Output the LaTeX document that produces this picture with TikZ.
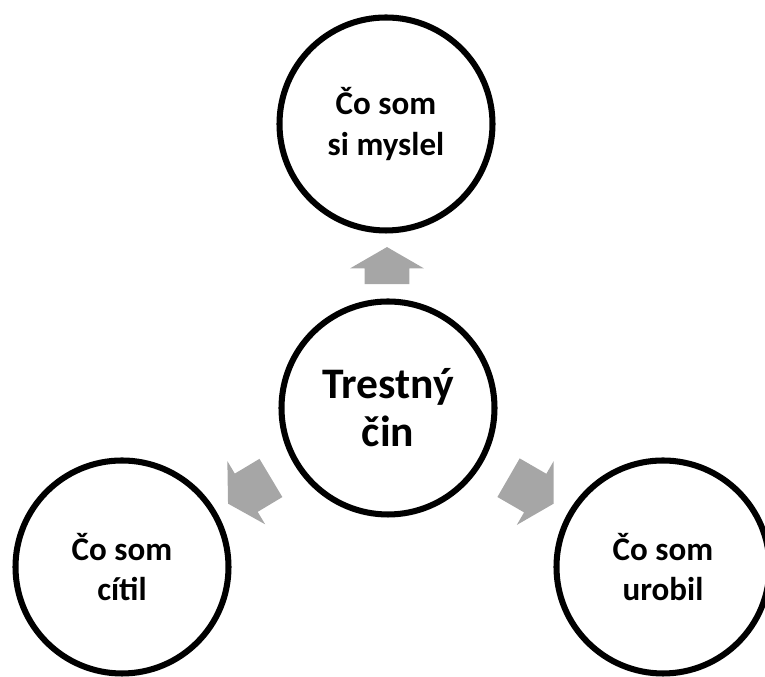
\documentclass[tikz,border=0pt]{standalone}
\usepackage{fontspec}
\setmainfont{Carlito}
\usetikzlibrary{shapes.arrows, calc}

\definecolor{arrowgray}{RGB}{166,166,166}

\begin{document}
\begin{tikzpicture}[
    thought/.style={circle, draw=black, line width=4.3pt, fill=white, minimum size=5.325cm, inner sep=0pt, align=center, font=\fontsize{23.5}{28.5}\selectfont\bfseries},
    crime/.style={thought, font=\fontsize{31}{34}\selectfont\bfseries},
    blockarrow/.style={single arrow, fill=arrowgray, draw=none, inner xsep=0pt, inner ysep=0.55cm, single arrow head extend=0.3625cm, single arrow tip angle=120}
]
\useasboundingbox (0,0) rectangle (19.125,16.925);

% Center
\node[crime] (crime) at (9.7,6.725) {Trestný\\čin};

% Outer circles
\node[thought] (thought) at (9.65,13.825) {Čo som\\si myslel};
\node[thought] (felt) at (3.05,2.75) {Čo som\\cítil};
\node[thought] (did) at (16.575,2.75) {Čo som\\urobil};

% Arrows
\node[blockarrow, minimum height=0.925cm, rotate=90] (a1) at ($(crime)!0.5!(thought)+(0,-0.15)$) {};
\node[blockarrow, minimum height=1.25cm, rotate=210.9] (a2) at ($(crime)!0.5!(felt)$) {};
\node[blockarrow, minimum height=1.3cm, rotate=330] (a3) at ($(crime)!0.5!(did)$) {};

\end{tikzpicture}
\end{document}
